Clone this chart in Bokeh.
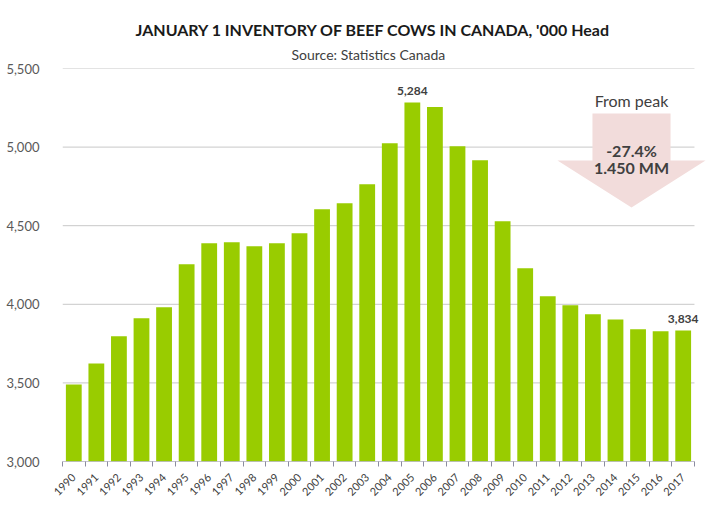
import math
from bokeh.plotting import figure
from bokeh.models import (FixedTicker, NumeralTickFormatter, Label, PolyAnnotation,
                          ColumnDataSource, Range1d, Title)
from bokeh.core.properties import value
from bokeh.embed import file_html
from bokeh.resources import INLINE

# ---- data ----
years = [1990, 1991, 1992, 1993, 1994, 1995, 1996, 1997, 1998, 1999,
         2000, 2001, 2002, 2003, 2004, 2005, 2006, 2007, 2008, 2009,
         2010, 2011, 2012, 2013, 2014, 2015, 2016, 2017]
inventory = [3490, 3624, 3796, 3911, 3981, 4255, 4389, 4395, 4369, 4389,
             4452, 4605, 4643, 4764, 5025, 5284, 5255, 5006, 4917, 4529,
             4229, 4051, 3994, 3936, 3904, 3841, 3828, 3834]
y_ticks = [3000, 3500, 4000, 4500, 5000, 5500]

title_text = "JANUARY 1 INVENTORY OF BEEF COWS IN CANADA, '000 Head"
subtitle_text = "Source: Statistics Canada"

FONT = "Lato"
GREEN = "#99CC00"
GRID = "#C8C8C8"
LABEL = "#595959"
AXIS = "#8C8CA0"
ARROW = "#F2DCDB"

idx = list(range(len(years)))
peak_i = max(idx, key=lambda i: inventory[i])
last_i = len(years) - 1
x_lo, x_hi = -0.5, len(years) - 0.5

p = figure(width=721, height=510, output_backend="svg", toolbar_location=None,
           x_range=Range1d(x_lo, 28.21), y_range=Range1d(y_ticks[0], y_ticks[-1]),
           min_border_left=62, min_border_right=11, min_border_top=68, min_border_bottom=49)
p.outline_line_color = None
p.background_fill_color = "white"
p.xgrid.grid_line_color = None
p.ygrid.grid_line_color = None

# horizontal gridlines limited to the category area
p.segment(x0=x_lo, x1=x_hi, y0=y_ticks[1:], y1=y_ticks[1:], line_color=GRID, line_width=1)

src = ColumnDataSource(dict(x=idx, top=inventory))
p.vbar(x="x", top="top", bottom=y_ticks[0], width=0.7, source=src,
       fill_color=GREEN, line_color=None)

# x axis baseline limited to the category area
p.segment(x0=[x_lo], x1=[x_hi], y0=[y_ticks[0]], y1=[y_ticks[0]], line_color=AXIS, line_width=1)

# y axis
p.yaxis.ticker = FixedTicker(ticks=y_ticks)
p.yaxis.formatter = NumeralTickFormatter(format="0,0")
p.yaxis.axis_line_color = None
p.yaxis.major_tick_line_color = None
p.yaxis.minor_tick_line_color = None
p.yaxis.major_label_standoff = 17
p.yaxis.major_label_text_font = FONT
p.yaxis.major_label_text_font_size = "13px"
p.yaxis.major_label_text_color = LABEL

# x axis
p.xaxis.ticker = FixedTicker(ticks=idx, minor_ticks=[i - 0.5 for i in range(len(years) + 1)])
p.xaxis.major_label_overrides = {i: str(y) for i, y in zip(idx, years)}
p.xaxis.major_label_orientation = math.pi / 4
p.xaxis.major_tick_line_color = None
p.xaxis.minor_tick_line_color = AXIS
p.xaxis.minor_tick_out = 5
p.xaxis.minor_tick_in = 0
p.xaxis.axis_line_color = None
p.xaxis.major_label_standoff = 8
p.xaxis.major_label_text_font = FONT
p.xaxis.major_label_text_font_size = "11px"
p.xaxis.major_label_text_color = "#404040"

# value labels for peak and last
lab_src = ColumnDataSource(dict(x=[peak_i, last_i], y=[inventory[peak_i], inventory[last_i]],
                                t=[f"{inventory[peak_i]:,}", f"{inventory[last_i]:,}"]))
p.text(x="x", y="y", text="t", source=lab_src, text_align="center", text_baseline="bottom",
       y_offset=-7, text_font=value(FONT), text_font_size="12px", text_font_style="bold",
       text_color="#404040")

# titles
p.add_layout(Title(text=subtitle_text, align="left", offset=229, standoff=11,
                   text_font=FONT, text_font_size="14px", text_font_style="normal",
                   text_color="#404040"), "above")
p.add_layout(Title(text=title_text, align="left", offset=73, standoff=0,
                   text_font=FONT, text_font_size="16px", text_font_style="bold",
                   text_color="#1a1a1a"), "above")

# arrow annotation "From peak"
ax_c, ax_sl, ax_sr, ax_hl, ax_hr = 24.71, 22.98, 26.44, 21.43, 27.99
ay_top, ay_base, ay_tip = 5214, 4915, 4616
p.add_layout(PolyAnnotation(
    xs=[ax_sl, ax_sr, ax_sr, ax_hr, ax_c, ax_hl, ax_sl],
    ys=[ay_top, ay_top, ay_base, ay_base, ay_tip, ay_base, ay_base],
    fill_color=ARROW, fill_alpha=1.0, line_color=None))

drop = inventory[last_i] - inventory[peak_i]
pct = drop / inventory[peak_i] * 100
p.add_layout(Label(x=ax_c, y=5296, text="From peak", text_align="center", text_baseline="middle",
                   text_font=FONT, text_font_size="16px", text_color="#404040"))
p.add_layout(Label(x=ax_c, y=4978, text=f"{pct:.1f}%", text_align="center", text_baseline="middle",
                   text_font=FONT, text_font_size="16px", text_font_style="bold", text_color="#404040"))
p.add_layout(Label(x=ax_c, y=4870, text=f"{abs(drop)/1000:.3f} MM", text_align="center",
                   text_baseline="middle", text_font=FONT, text_font_size="16px",
                   text_font_style="bold", text_color="#404040"))

open("out.html", "w").write(file_html(p, INLINE))
